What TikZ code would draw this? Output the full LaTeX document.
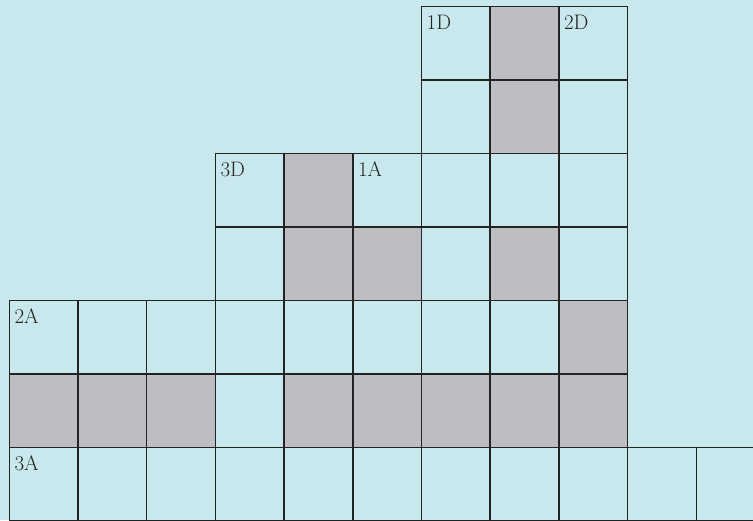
\documentclass[tikz,border=0pt]{standalone}
\definecolor{bg}{RGB}{200,232,237}
\definecolor{shade}{RGB}{190,190,194}
\definecolor{ink}{RGB}{35,35,35}
\begin{document}
\begin{tikzpicture}[x=1pt,y=-1pt,
  wcell/.style={draw=ink, line width=1.5pt, fill=bg},
  gcell/.style={draw=ink, line width=1.5pt, fill=shade},
  lab/.style={anchor=north west, inner sep=0pt, font=\fontsize{21}{21}\selectfont, text=ink}]
\useasboundingbox (0,0) rectangle (753,520);
\fill[bg] (0,0) rectangle (753,520);
\clip (0,0) rectangle (753,520);
\foreach \c/\r/\s in {
  6/0/wcell, 7/0/gcell, 8/0/wcell,
  6/1/wcell, 7/1/gcell, 8/1/wcell,
  3/2/wcell, 4/2/gcell, 5/2/wcell, 6/2/wcell, 7/2/wcell, 8/2/wcell,
  3/3/wcell, 4/3/gcell, 5/3/gcell, 6/3/wcell, 7/3/gcell, 8/3/wcell,
  0/4/wcell, 1/4/wcell, 2/4/wcell, 3/4/wcell, 4/4/wcell, 5/4/wcell, 6/4/wcell, 7/4/wcell, 8/4/gcell,
  0/5/gcell, 1/5/gcell, 2/5/gcell, 3/5/wcell, 4/5/gcell, 5/5/gcell, 6/5/gcell, 7/5/gcell, 8/5/gcell,
  0/6/wcell, 1/6/wcell, 2/6/wcell, 3/6/wcell, 4/6/wcell, 5/6/wcell, 6/6/wcell, 7/6/wcell, 8/6/wcell, 9/6/wcell, 10/6/wcell}
  \path[\s] ({9.3+\c*68.7},{6.7+\r*73.5}) rectangle ++(68.7,73.5);
\node[lab] (l1D) at ({9.3+6*68.7+5},{6.7+8}) {1D};
\node[lab] (l2D) at ({9.3+8*68.7+5},{6.7+8}) {2D};
\node[lab] (l3D) at ({9.3+3*68.7+5},{6.7+2*73.5+8}) {3D};
\node[lab] (l1A) at ({9.3+5*68.7+5},{6.7+2*73.5+8}) {1A};
\node[lab] (l2A) at ({9.3+5},{6.7+4*73.5+8}) {2A};
\node[lab] (l3A) at ({9.3+5},{6.7+6*73.5+8}) {3A};
\end{tikzpicture}
\end{document}
